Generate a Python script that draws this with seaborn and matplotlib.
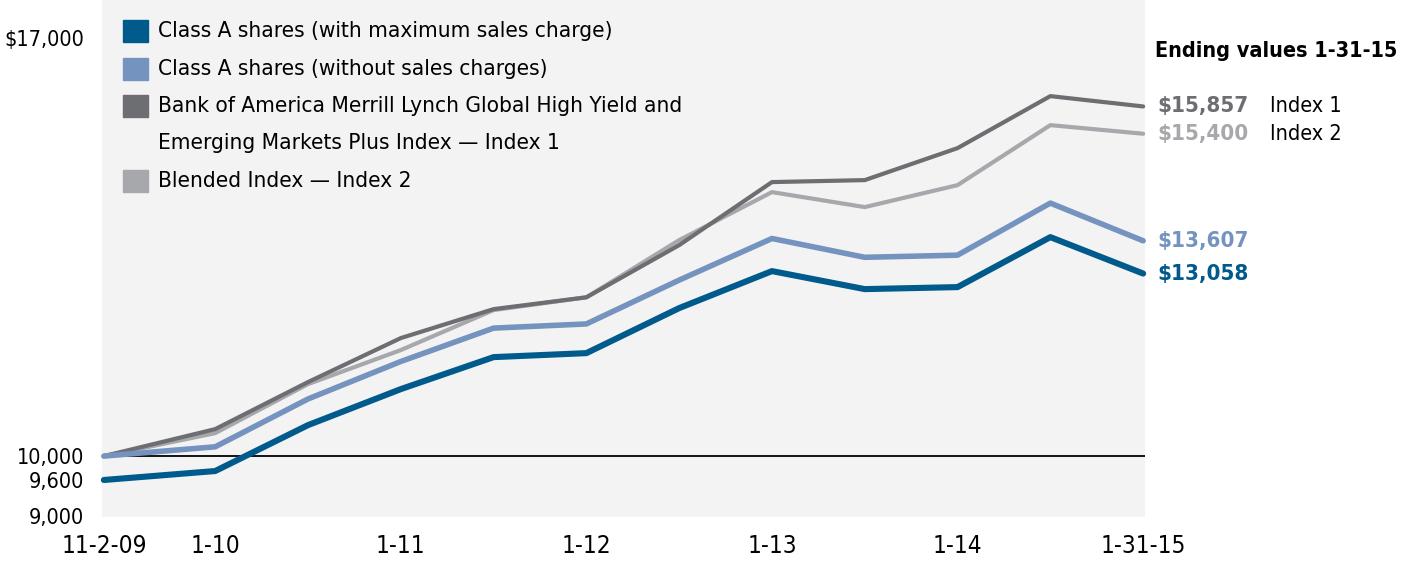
import matplotlib
matplotlib.use("Agg")
import matplotlib.pyplot as plt
import matplotlib.transforms as mtransforms
from matplotlib import font_manager
from matplotlib.patches import Rectangle
import pandas as pd
import seaborn as sns

# periods in half-years from 1-10 (first gap is drawn wider in the original)
periods = [-1.2, 0, 1, 2, 3, 4, 5, 6, 7, 8, 9, 10]
tick_periods = [-1.2, 0, 2, 4, 6, 8, 10]
tick_labels = ["11-2-09", "1-10", "1-11", "1-12", "1-13", "1-14", "1-31-15"]

class_a_max = [9600, 9750, 10519, 11122, 11658, 11725, 12479, 13099, 12797, 12831, 13668, 13058]
class_a_nosc = [10000, 10156, 10957, 11585, 12144, 12214, 12948, 13645, 13330, 13366, 14238, 13607]
index_1 = [10000, 10452, 11240, 11977, 12462, 12660, 13534, 14590, 14623, 15159, 16030, 15857]
index_2 = [10000, 10385, 11206, 11776, 12446, 12660, 13618, 14422, 14171, 14539, 15544, 15400]

y_ticks = [9000, 9600, 10000, 17000]
y_tick_labels = ["9,000", "9,600", "10,000", "$17,000"]

legend_labels = [
    "Class A shares (with maximum sales charge)",
    "Class A shares (without sales charges)",
    "Bank of America Merrill Lynch Global High Yield and\nEmerging Markets Plus Index \u2014 Index 1",
    "Blended Index \u2014 Index 2",
]
end_labels = ["$13,058", "$13,607", "$15,857", "$15,400"]
end_tags = ["", "", "Index 1", "Index 2"]

DARK_BLUE = "#005a8c"
LIGHT_BLUE = "#7593bf"
DARK_GRAY = "#6d6e71"
LIGHT_GRAY = "#a6a8ab"
colors = [DARK_BLUE, LIGHT_BLUE, DARK_GRAY, LIGHT_GRAY]
widths = [4.4, 4.0, 3.0, 3.0]

sns.set_theme(style="white")
names = {f.name for f in font_manager.fontManager.ttflist}
if "Liberation Sans Narrow" in names:
    plt.rcParams["font.family"] = ["Liberation Sans Narrow", "DejaVu Sans"]
else:
    plt.rcParams["font.family"] = ["DejaVu Sans"]
    plt.rcParams["font.stretch"] = "condensed"
plt.rcParams["text.color"] = "black"
plt.rcParams["xtick.color"] = "black"
plt.rcParams["ytick.color"] = "black"

W, H = 1402, 561
fig = plt.figure(figsize=(W / 100, H / 100), dpi=100)
fig.patch.set_facecolor("white")


def fx(px):
    return px / W


def fy(py):
    return 1 - py / H


ax = fig.add_axes([fx(102), fy(517), fx(1145) - fx(102), fy(0) - fy(517)])
ax.set_facecolor("#f3f3f4")

df = pd.DataFrame({
    "period": periods * 4,
    "value": class_a_max + class_a_nosc + index_1 + index_2,
    "series": sum([[i] * len(periods) for i in range(4)], []),
})

ax.axhline(10000, color="black", lw=1.3, zorder=1)

# draw index lines first so class A lines sit on top
for i in [3, 2, 1, 0]:
    sub = df[df["series"] == i]
    sns.lineplot(data=sub, x="period", y="value", ax=ax, color=colors[i],
                 linewidth=widths[i], legend=False, zorder=3 + (3 - i),
                 solid_capstyle="round", clip_on=False)

ax.set_xlim(-1.22, 10.02)
ax.set_ylim(8980, 17640)
ax.set_xticks(tick_periods)
ax.set_xticklabels(tick_labels, fontsize=17.5)
ax.set_yticks(y_ticks)
ax.set_yticklabels(y_tick_labels, fontsize=15.5)
ax.tick_params(axis="x", length=0, pad=12)
ax.tick_params(axis="y", length=0, pad=13)
ax.set_xlabel("")
ax.set_ylabel("")
for s in ax.spines.values():
    s.set_visible(False)

# legend, drawn as squares and text inside the plot panel
rows = [31, 69, 106, 181]
LEG_FS = 16.2
for lab, col, ry in zip(legend_labels, colors, rows):
    fig.patches.append(Rectangle((fx(123), fy(ry + 11)), fx(25), 22 / H,
                                 transform=fig.transFigure, color=col))
    if "\n" in lab:
        first, second = lab.split("\n")
        fig.text(fx(158), fy(ry), first, fontsize=LEG_FS, va="center", ha="left")
        fig.text(fx(158), fy(ry + 37), second, fontsize=LEG_FS, va="center", ha="left")
    else:
        fig.text(fx(158), fy(ry), lab, fontsize=LEG_FS, va="center", ha="left")

# ending values
fig.text(fx(1155), fy(51), "Ending values 1-31-15", fontsize=15.5,
         fontweight="bold", va="center", ha="left")
trans = mtransforms.blended_transform_factory(ax.transAxes, ax.transData)
series_end = [class_a_max[-1], class_a_nosc[-1], index_1[-1], index_2[-1]]
for lab, tag, col, val in zip(end_labels, end_tags, colors, series_end):
    ax.text(1.0115, val, lab, transform=trans, color=col, fontsize=16,
            fontweight="bold", va="center", ha="left", clip_on=False)
    if tag:
        ax.text(1.12, val, tag, transform=trans, color="black", fontsize=15.5,
                va="center", ha="left", clip_on=False)

fig.savefig("out.png", dpi=100)
